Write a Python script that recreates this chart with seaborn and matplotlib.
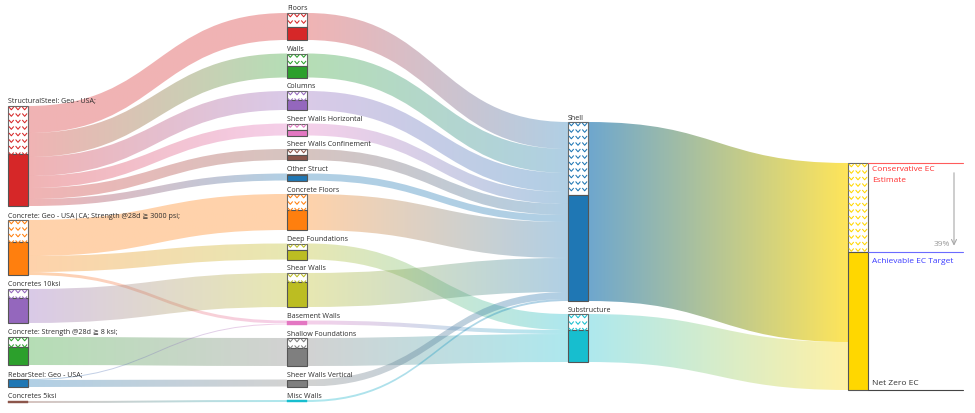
#!/usr/bin/env python3
# coding=utf-8

import numpy as np
import matplotlib
matplotlib.use("Agg")
from matplotlib import pyplot as plt
from matplotlib.path import Path
from matplotlib.patches import PathPatch, Rectangle
from matplotlib.collections import LineCollection
from matplotlib.colors import to_rgb
import seaborn as sns


# nodes, one list per column
materials = ["StructuralSteel: Geo - USA;",
             "Concrete: Geo - USA|CA; Strength @28d \u2267 3000 psi;",
             "Concretes 10ksi",
             "Concrete: Strength @28d \u2267 8 ksi;",
             "RebarSteel: Geo - USA;",
             "Concretes 5ksi"]
components = ["Floors", "Walls", "Columns", "Sheer Walls Horizontal",
              "Sheer Walls Confinement", "Other Struct", "Concrete Floors",
              "Deep Foundations", "Shear Walls", "Basement Walls",
              "Shallow Foundations", "Sheer Walls Vertical", "Misc Walls"]
component_system = ["Shell", "Shell", "Shell", "Shell", "Shell", "Shell",
                    "Shell", "Substructure", "Shell", "Substructure",
                    "Substructure", "Shell", "Shell"]
systems = ["Shell", "Substructure"]
total_node = "Total"

# material -> component flows (tCO2e), conservative and achievable
flow_material = [materials[0]] * 6 + [materials[1]] * 3 + \
    [materials[2], materials[3], materials[4], materials[4], materials[5]]
flow_component = ["Floors", "Walls", "Columns", "Sheer Walls Horizontal",
                  "Sheer Walls Confinement", "Other Struct",
                  "Concrete Floors", "Deep Foundations", "Basement Walls",
                  "Shear Walls", "Shallow Foundations",
                  "Sheer Walls Vertical", "Basement Walls", "Misc Walls"]
ec_conservative = [270, 240, 190, 120, 110, 70, 360, 160, 30, 340, 280, 70, 10, 20]
ec_achievable = [130, 120, 100, 60, 50, 60, 200, 100, 30, 255, 180, 70, 10, 20]

# colours
sns.set_theme(style="white")
plt.rcParams['font.family'] = ['Open Sans', 'DejaVu Sans']
pal = sns.color_palette("tab10")
material_colors = [pal[3], pal[1], pal[4], pal[2], pal[0], pal[5]]
component_colors = [pal[3], pal[2], pal[4], pal[6], pal[5], pal[0], pal[1],
                    pal[8], pal[8], pal[6], pal[7], pal[7], pal[9]]
system_colors = [pal[0], pal[9]]
total_color = "#FFD700"

# layout
W, H = 975, 413
col_x = [8, 287, 568, 848]
col_top = [106, 13, 122, 163]
col_pad = [14, 13.5, 13, 0]
node_w = 20
extent = (13, 402)   # vertical extent of the fullest column
link_alpha = 0.35
shell_alpha = 0.65


def build_links():
    links = []
    for m, c, v, a in zip(flow_material, flow_component, ec_conservative, ec_achievable):
        links.append([m, c, v, a])
    comp_val = {c: [0, 0] for c in components}
    for c, v, a in zip(flow_component, ec_conservative, ec_achievable):
        comp_val[c][0] += v
        comp_val[c][1] += a
    sys_val = {s: [0, 0] for s in systems}
    for c, s in zip(components, component_system):
        links.append([c, s, comp_val[c][0], comp_val[c][1]])
        sys_val[s][0] += comp_val[c][0]
        sys_val[s][1] += comp_val[c][1]
    for s in systems:
        links.append([s, total_node, sys_val[s][0], sys_val[s][1]])
    return links


def draw_band(ax, xa, xb, ya, yb, w, c0, c1, alpha):
    xm = (xa + xb) / 2
    verts = [(xa, ya), (xm, ya), (xm, yb), (xb, yb), (xb, yb + w),
             (xm, yb + w), (xm, ya + w), (xa, ya + w), (xa, ya)]
    codes = [Path.MOVETO, Path.CURVE4, Path.CURVE4, Path.CURVE4, Path.LINETO,
             Path.CURVE4, Path.CURVE4, Path.CURVE4, Path.CLOSEPOLY]
    patch = PathPatch(Path(verts, codes), fc='none', ec='none', transform=ax.transData)
    ax.add_patch(patch)
    t = np.linspace(0, 1, 256)[:, None]
    rgb = (1 - t) * np.array(to_rgb(c0)) + t * np.array(to_rgb(c1))
    img = np.concatenate([rgb, np.full((256, 1), alpha)], axis=1)[None, :, :]
    lo, hi = min(ya, yb), max(ya, yb) + w
    im = ax.imshow(img, extent=(xa, xb, hi, lo), aspect='auto',
                   interpolation='bilinear', zorder=1)
    im.set_clip_path(patch)


def draw_chevrons(ax, x, y0, y1, color):
    if y1 - y0 <= 0:
        return
    segs = []
    cw = node_w / 3
    y = y0 + 1.0
    while y < y1:
        for k in range(3):
            cx = x + cw * k + cw / 2
            segs.append([(cx - cw * 0.36, y), (cx, y + 2.8), (cx + cw * 0.36, y)])
        y += 6.5
    clip = Rectangle((x, y0), node_w, y1 - y0, fc='none', ec='none', transform=ax.transData)
    ax.add_patch(clip)
    lc = LineCollection(segs, colors=[color], linewidths=0.75, zorder=4)
    lc.set_clip_path(clip)
    ax.add_collection(lc)


links = build_links()
columns = [materials, components, systems, [total_node]]
colors = dict(zip(materials, material_colors))
colors.update(zip(components, component_colors))
colors.update(zip(systems, system_colors))
colors[total_node] = total_color

# node values
value = {}
achieve = {}
for col in columns:
    for n in col:
        vin = sum(l[2] for l in links if l[1] == n)
        vout = sum(l[2] for l in links if l[0] == n)
        ain = sum(l[3] for l in links if l[1] == n)
        aout = sum(l[3] for l in links if l[0] == n)
        value[n] = max(vin, vout)
        achieve[n] = max(ain, aout)

# scale from the fullest column
ky = (extent[1] - extent[0] - (len(components) - 1) * col_pad[1]) / \
    sum(value[n] for n in components)

pos = {}
for ci, col in enumerate(columns):
    y = col_top[ci]
    for n in col:
        pos[n] = (col_x[ci], y, value[n] * ky)
        y += value[n] * ky + col_pad[ci]

# link offsets at both ends, sorted like d3-sankey
order = {n: i for col in columns for i, n in enumerate(col)}
src_off = {n: pos[n][1] for n in pos}
dst_off = {n: pos[n][1] for n in pos}
out_sorted = sorted(range(len(links)), key=lambda i: (order[links[i][0]], pos[links[i][1]][1]))
in_sorted = sorted(range(len(links)), key=lambda i: (order[links[i][1]], pos[links[i][0]][1]))
ys = {}
yt = {}
for i in out_sorted:
    s = links[i][0]
    ys[i] = src_off[s]
    src_off[s] += links[i][2] * ky
for i in in_sorted:
    t = links[i][1]
    yt[i] = dst_off[t]
    dst_off[t] += links[i][2] * ky

fig = plt.figure(figsize=(W / 100, H / 100), dpi=100)
ax = fig.add_axes([0, 0, 1, 1])

for i, (s, t, v, a) in enumerate(links):
    alpha = shell_alpha if s == "Shell" else link_alpha
    draw_band(ax, pos[s][0] + node_w, pos[t][0], ys[i], yt[i], v * ky,
              colors[s], colors[t], alpha)

# nodes: hatched part = conservative - achievable, solid part = achievable
for col in columns:
    for n in col:
        x, y, h = pos[n]
        h_hatch = (value[n] - achieve[n]) * ky
        lw = 0.8 if h > 4 else 0.3
        if h_hatch > 0:
            ax.add_patch(Rectangle((x, y), node_w, h_hatch, fc='white', ec='#6a6a6a',
                                   lw=lw, zorder=3))
            draw_chevrons(ax, x, y, y + h_hatch, colors[n])
        ax.add_patch(Rectangle((x, y + h_hatch), node_w, h - h_hatch, fc=colors[n],
                               ec='#555555' if h > 4 else colors[n], lw=lw, zorder=3))
        if n != total_node:
            ax.text(x, y - 2.5, n, fontsize=5.1, color='#2b2b2b', va='baseline',
                    ha='left', zorder=5)

# target annotations at the total node
x, y, h = pos[total_node]
y_ach = y + (value[total_node] - achieve[total_node]) * ky
x0, x1 = x + node_w, 963
ax.plot([x0, x1], [y, y], color='#ff5c5c', lw=0.8, zorder=3)
ax.plot([x0, x1], [y_ach, y_ach], color='#6b6bff', lw=0.8, zorder=3)
ax.plot([x0, x1], [y + h, y + h], color='#444444', lw=0.8, zorder=3)
ax.text(x0 + 4, y + 8, "Conservative EC", fontsize=6, color='#ff3030', va='baseline')
ax.text(x0 + 4, y + 19, "Estimate", fontsize=6, color='#ff3030', va='baseline')
ax.text(x0 + 4, y_ach + 11.5, "Achievable EC Target", fontsize=6, color='#3c3cff',
        va='baseline')
ax.text(x0 + 4, y + h - 5, "Net Zero EC", fontsize=6, color='#333333', va='baseline')
reduction = 1 - achieve[total_node] / value[total_node]
ax.annotate('', xy=(954, y_ach - 3), xytext=(954, y + 7),
            arrowprops=dict(arrowstyle='->', color='#a8a8a8', lw=0.8,
                            mutation_scale=9))
ax.text(950, y_ach - 6, '{:.0f}%'.format(reduction * 100), fontsize=6,
        color='#9a9a9a', ha='right', va='baseline')

ax.set_xlim(0, W)
ax.set_ylim(H, 0)
ax.axis('off')
fig.savefig("out.png", dpi=100)
